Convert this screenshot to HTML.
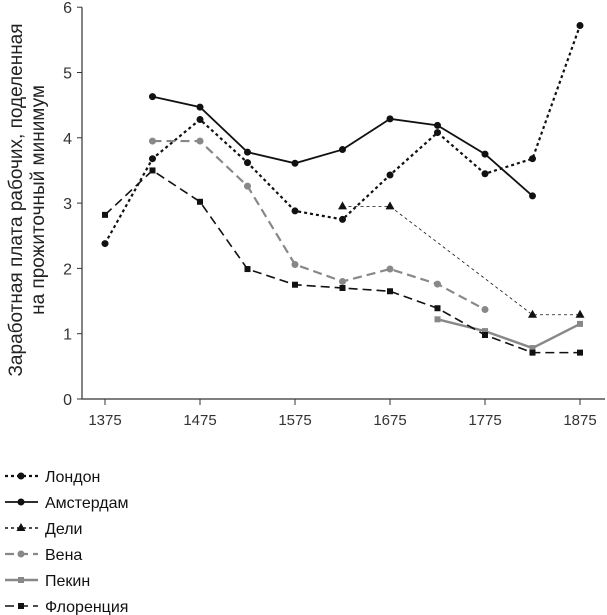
<!DOCTYPE html>
<html><head><meta charset="utf-8"><style>
body{margin:0;background:#fff;}
svg{display:block;font-family:"Liberation Sans",sans-serif;}
</style></head><body>
<svg id="chart" width="607" height="615">
<g id="axes"></g>
<g id="plot"></g>
<g id="legend"></g>
<text transform="translate(22,200) rotate(-90)" text-anchor="middle" font-size="19" fill="#222"><tspan x="0" y="0">Заработная плата рабочих, поделенная</tspan><tspan x="0" y="22">на прожиточный минимум</tspan></text>
</svg>
<script>
const years = [1375,1425,1475,1525,1575,1625,1675,1725,1775,1825,1875];
const xTicks = [1375,1475,1575,1675,1775,1875];
const yTicks = [0,1,2,3,4,5,6];
const london = [2.38,3.68,4.28,3.62,2.88,2.75,3.43,4.08,3.45,3.68,5.72];
const amsterdam = [null,4.63,4.47,3.78,3.61,3.82,4.29,4.19,3.75,3.11,null];
const delhi = [null,null,null,null,null,2.95,2.95,null,null,1.29,1.29];
const vienna = [null,3.95,3.95,3.26,2.06,1.80,1.99,1.76,1.37,null,null];
const peking = [null,null,null,null,null,null,null,1.22,1.04,0.78,1.15];
const florence = [2.82,3.50,3.02,1.99,1.75,1.70,1.65,1.39,0.98,0.71,0.71];
const seriesNames = ["Лондон","Амстердам","Дели","Вена","Пекин","Флоренция"];

const NS="http://www.w3.org/2000/svg";
const X=y=>105+(y-1375)*0.95;
const Y=v=>399-v*65.3;
function mk(tag,attrs,parent){const e=document.createElementNS(NS,tag);for(const k in attrs)e.setAttribute(k,attrs[k]);parent.appendChild(e);return e;}
const axes=document.getElementById('axes'),plot=document.getElementById('plot'),legend=document.getElementById('legend');
let a=mk('path',{d:`M82,${Y(6)} V399 H605`,stroke:'#333',fill:'none','stroke-width':1.2},axes);


yTicks.forEach(v=>{
  let t=mk('line',{x1:77,x2:82,y1:Y(v),y2:Y(v),stroke:'#333'},axes);
  
  
  let l=mk('text',{x:72,y:Y(v)+6,'text-anchor':'end','font-size':16,fill:'#333'},axes);l.textContent=v;
  
  
});
xTicks.forEach(v=>{
  let t=mk('line',{x1:X(v),x2:X(v),y1:399,y2:405,stroke:'#333'},axes);
  
  
  let l=mk('text',{x:X(v),y:425,'text-anchor':'middle','font-size':15,fill:'#333'},axes);l.textContent=v;
  
  
});
const styles=[
 {data:london,color:'#111',w:2.2,dash:'3,3',marker:'circle',r:3.5},
 {data:amsterdam,color:'#111',w:1.8,dash:'',marker:'circle',r:3.5},
 {data:delhi,color:'#111',w:0.8,dash:'3,3',marker:'tri',r:4},
 {data:vienna,color:'#888',w:2.2,dash:'9,5',marker:'circle',r:3.5},
 {data:peking,color:'#888',w:2.4,dash:'',marker:'square',r:3},
 {data:florence,color:'#111',w:1.6,dash:'9,5',marker:'square',r:3}
];
function marker(type,x,y,r,color,parent){
  let e;
  if(type==='circle')e=mk('circle',{cx:x,cy:y,r:r,fill:color},parent);
  else if(type==='square')e=mk('rect',{x:x-r,y:y-r,width:2*r,height:2*r,fill:color},parent);
  else e=mk('path',{d:`M${x},${y-r-1}L${x+r+0.5},${y+r-1}L${x-r-0.5},${y+r-1}Z`,fill:color},parent);
  return e;
}
styles.forEach((s,i)=>{
  const g=mk('g',{},plot);
  
  
  let d='',pen=false;
  s.data.forEach((v,j)=>{if(v==null)return;d+=(pen?'L':'M')+X(years[j])+','+Y(v);pen=true;});
  const p=mk('path',{d:d,stroke:s.color,'stroke-width':s.w,fill:'none','stroke-dasharray':s.dash},g);
  
  
  s.data.forEach((v,j)=>{if(v==null)return;const m=marker(s.marker,X(years[j]),Y(v),s.r,s.color,g);
    
    });
  const ly=476+i*26;
  const lg=mk('g',{},legend);
  
  
  mk('line',{x1:5,x2:38,y1:ly,y2:ly,stroke:s.color,'stroke-width':Math.max(s.w,1.6),'stroke-dasharray':s.dash},lg);
  marker(s.marker,21,ly,s.r,s.color,lg);
  const t=mk('text',{x:45,y:ly+6,'font-size':16,fill:'#111'},lg);t.textContent=seriesNames[i];
});
</script>
</body></html>
